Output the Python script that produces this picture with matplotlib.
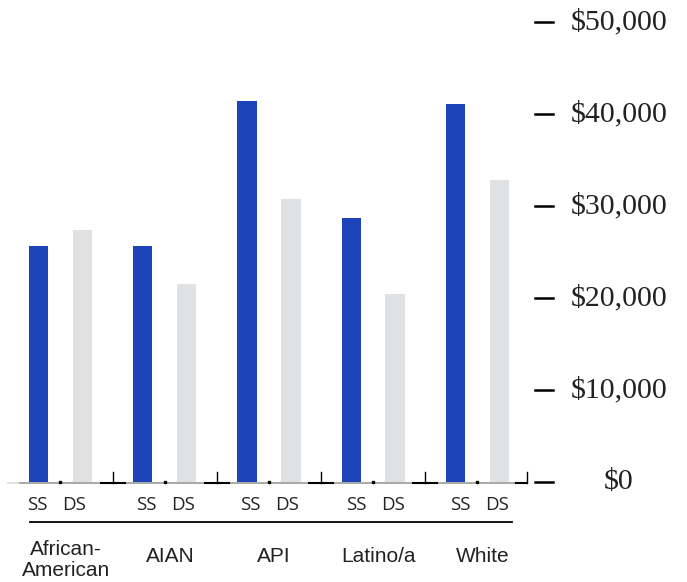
import numpy as np
from matplotlib import pyplot as plt

groups = ['African-\nAmerican', 'AIAN', 'API', 'Latino/a', 'White']
ss_values = [25650, 25650, 41400, 28700, 41100]
ds_values = [27400, 21500, 30750, 20400, 32800]
y_ticks = [0, 10000, 20000, 30000, 40000, 50000]
y_tick_labels = ['$0', '$10,000', '$20,000', '$30,000', '$40,000', '$50,000']

blue = '#1d45b9'
grey = '#e0e1e3'
ink = '#222222'

fig = plt.figure(figsize=(6.87, 5.82), dpi=100)
ax = fig.add_axes([0, 0, 1, 1])
ax.axis('off')
ax.set_xlim(-0.5803, 6.0096)
ax.set_ylim(-10870, 52391)

x = np.arange(len(groups))
off = 0.211
w = 0.187

# baseline
ax.plot([-0.503, -0.388], [-109, -109], color='#dddddd', lw=1.2, zorder=1)
ax.plot([-0.388, 4.47], [-109, -109], color='#9a9a9a', lw=1.2, zorder=1)

ax.bar(x - off, ss_values, width=w, color=blue, zorder=2)
ax.bar(x + off, ds_values, width=w, color=grey, zorder=2)

# little marks between and after groups
ax.plot(x, [-20] * len(x), 's', color='black', markersize=1.8, zorder=3)
for i in range(len(groups) - 1):
    c = i + 0.5
    ax.plot([c - 0.115, c + 0.115], [-109, -109], color='black', lw=1.5, zorder=3)
    ax.plot([c, c], [-109, 1087], color='black', lw=1.0, zorder=3)
ax.plot([4.37, 4.475], [-109, -109], color='black', lw=1.5, zorder=3)
ax.plot([4.475, 4.475], [-109, 1087], color='black', lw=1.0, zorder=3)

# SS / DS labels (sit a little closer together than the bars)
shift = [-0.045, 0, 0, 0.015, 0.01]
for i in x:
    ax.text(i + shift[i] - 0.175, -2500, 'SS', ha='center', va='center',
            fontsize=13.5, family='Open Sans', color=ink)
    ax.text(i + shift[i] + 0.175, -2500, 'DS', ha='center', va='center',
            fontsize=13.5, family='Open Sans', color=ink)

ax.plot([-0.293, 4.33], [-4348, -4348], color='black', lw=1.3)

for i, g in enumerate(groups):
    yy = -8450 if '\n' in g else -8150
    ax.text(i + 0.05, yy, g, ha='center', va='center', fontsize=15,
            family='Liberation Sans', color=ink, linespacing=1.15)

# value axis on the right
for v, lab in zip(y_ticks, y_tick_labels):
    ax.plot([4.552, 4.725], [v, v], color='black', lw=1.8)
    ax.text(5.357, v, lab, ha='center', va='center', fontsize=21.5,
            family='Liberation Serif', color=ink)

fig.savefig('out.png', dpi=100)
